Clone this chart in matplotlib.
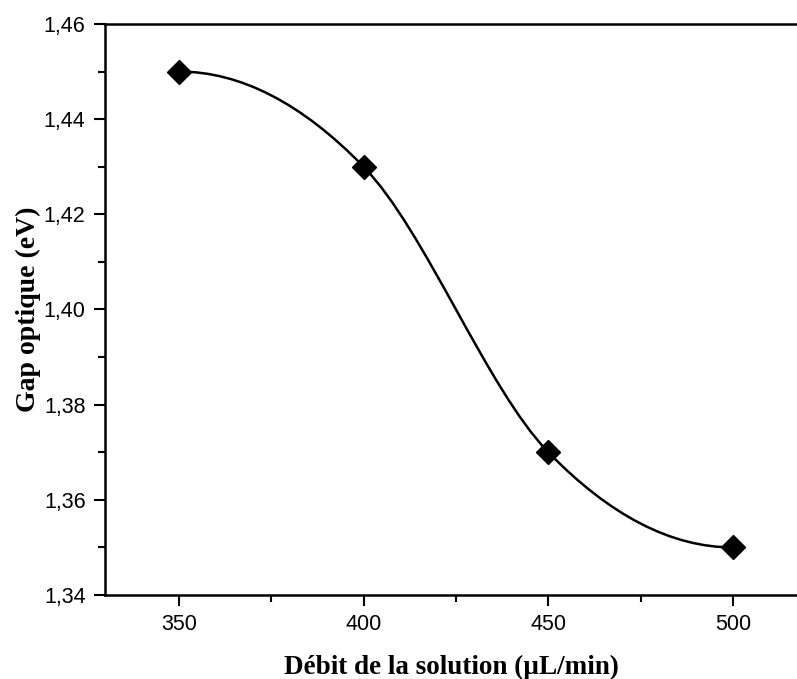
import matplotlib
matplotlib.use("Agg")
import matplotlib.pyplot as plt
from matplotlib.path import Path
from matplotlib.patches import PathPatch
from matplotlib.ticker import MultipleLocator, FuncFormatter

# data
debit = [350, 400, 450, 500]          # uL/min
gap = [1.45, 1.43, 1.37, 1.35]        # eV


def smooth_path(xs, ys):
    """Cubic Hermite curve through the points (flat at both ends), as bezier path."""
    n = len(xs)
    slopes = []
    for i in range(n):
        if i == 0 or i == n - 1:
            slopes.append(0.0)
        else:
            slopes.append((ys[i + 1] - ys[i - 1]) / (xs[i + 1] - xs[i - 1]))
    verts = [(xs[0], ys[0])]
    codes = [Path.MOVETO]
    for i in range(n - 1):
        h = (xs[i + 1] - xs[i]) / 3.0
        verts += [(xs[i] + h, ys[i] + slopes[i] * h),
                  (xs[i + 1] - h, ys[i + 1] - slopes[i + 1] * h),
                  (xs[i + 1], ys[i + 1])]
        codes += [Path.CURVE4] * 3
    return Path(verts, codes)


fig = plt.figure(figsize=(7.97, 6.79), dpi=100)
ax = fig.add_axes([0.1317, 0.1237, 0.8683, 0.8410])

ax.add_patch(PathPatch(smooth_path(debit, gap), facecolor="none",
                       edgecolor="black", lw=1.8, zorder=2))
ax.plot(debit, gap, linestyle="none", marker="D", markersize=12,
        color="black", zorder=3)

ax.set_xlim(330, 517.3)
ax.set_ylim(1.34, 1.46)

ax.xaxis.set_major_locator(MultipleLocator(50))
ax.xaxis.set_minor_locator(MultipleLocator(25))
ax.yaxis.set_major_locator(MultipleLocator(0.02))
ax.yaxis.set_minor_locator(MultipleLocator(0.01))
ax.yaxis.set_major_formatter(FuncFormatter(lambda v, p: f"{v:.2f}".replace(".", ",")))

ax.spines["right"].set_visible(False)
for s in ["left", "bottom", "top"]:
    ax.spines[s].set_linewidth(1.8)

ax.tick_params(which="both", direction="out", width=1.5, top=False, right=False)
ax.tick_params(which="major", length=8, labelsize=15.5, pad=6)
ax.tick_params(which="minor", length=5)
for lab in ax.get_xticklabels() + ax.get_yticklabels():
    lab.set_fontfamily("Liberation Sans")

ax.set_xlabel("Débit de la solution (µL/min)", fontsize=19.5, fontweight="bold",
              fontfamily="Liberation Serif", labelpad=14)
ax.set_ylabel("Gap optique (eV)", fontsize=20, fontweight="bold",
              fontfamily="Liberation Serif", labelpad=2)

fig.savefig("out.png", dpi=100)
